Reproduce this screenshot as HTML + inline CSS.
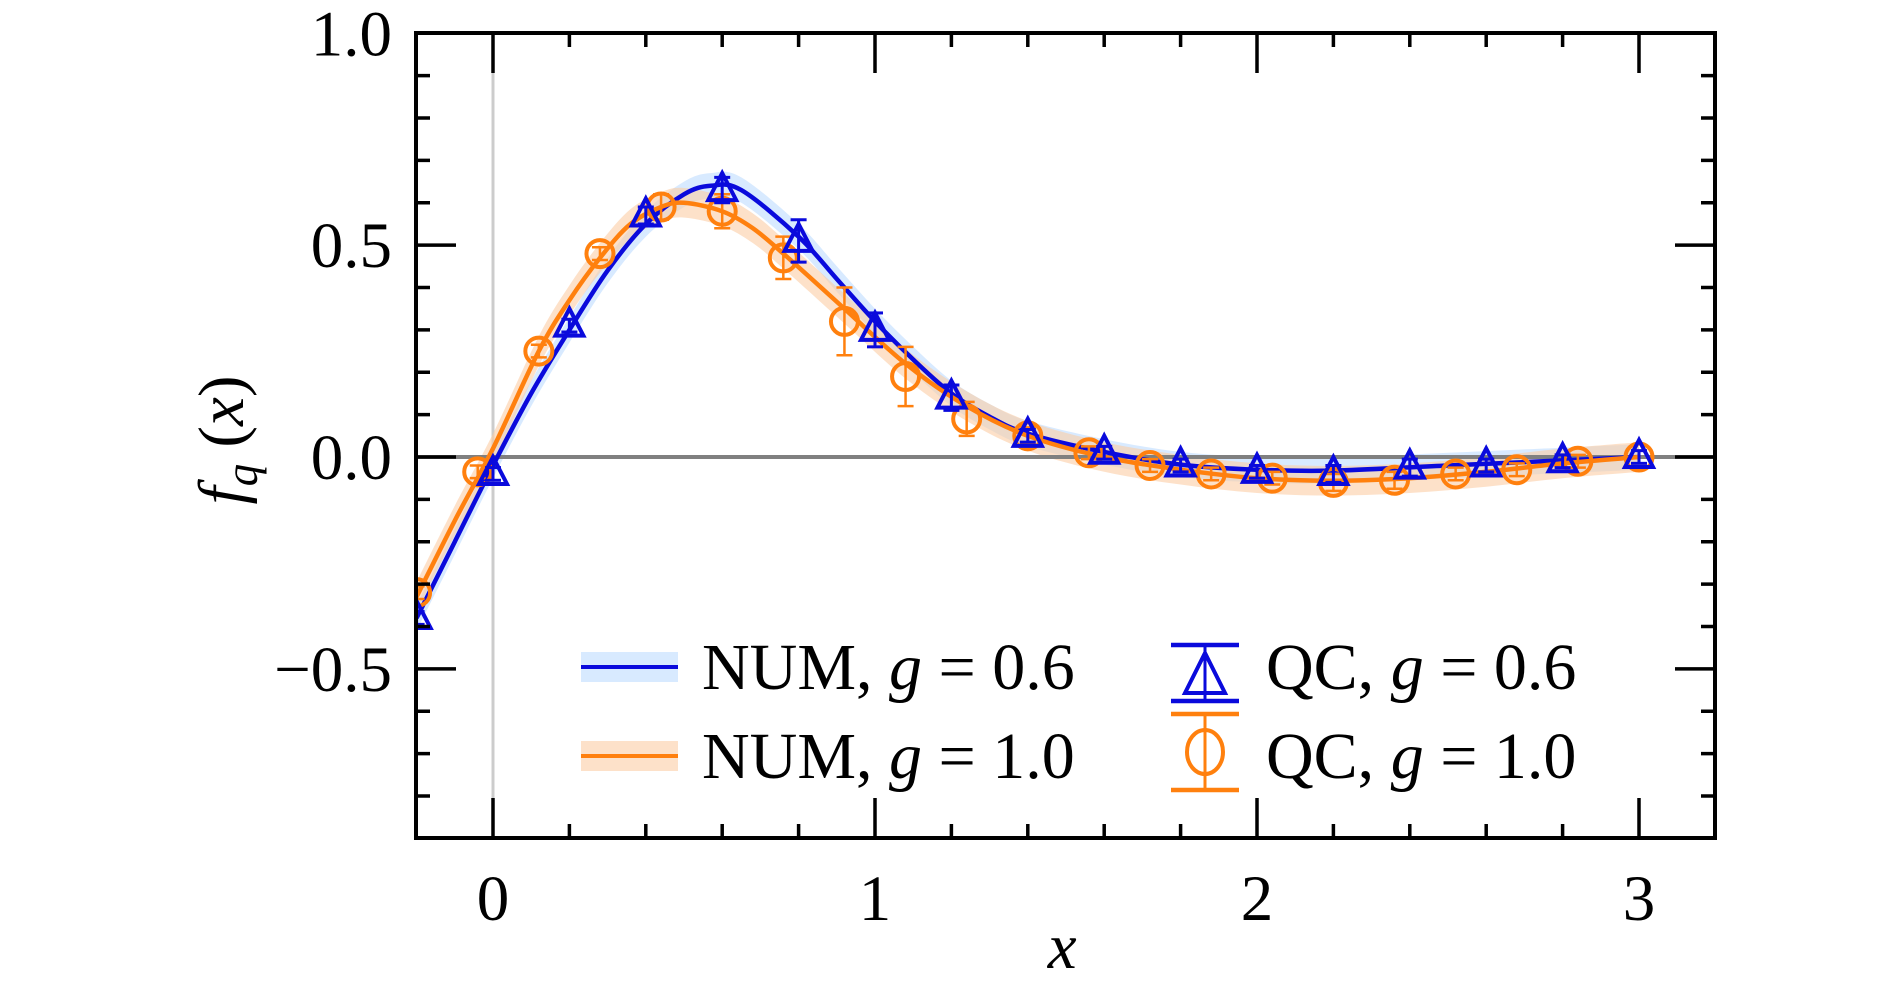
<!DOCTYPE html>
<html><head><meta charset="utf-8"><style>
html,body{margin:0;padding:0;background:#fff;}
svg{display:block;}
text{font-family:"Liberation Serif",serif;fill:#000;}
</style></head><body>
<svg id="s" width="1890" height="983" xmlns="http://www.w3.org/2000/svg"></svg>
<script>
const L=416,R=1715,T=33,B=838;
const X=x=>493+(x)*382, Y=y=>457-y*423.7;
const s=document.getElementById('s');let h='';
function cr(pts){let d='M'+pts[0][0].toFixed(1)+','+pts[0][1].toFixed(1);
for(let i=0;i<pts.length-1;i++){const p0=pts[Math.max(0,i-1)],p1=pts[i],p2=pts[i+1],p3=pts[Math.min(pts.length-1,i+2)];
d+=`C${(p1[0]+(p2[0]-p0[0])/6).toFixed(1)},${(p1[1]+(p2[1]-p0[1])/6).toFixed(1)} ${(p2[0]-(p3[0]-p1[0])/6).toFixed(1)},${(p2[1]-(p3[1]-p1[1])/6).toFixed(1)} ${p2[0].toFixed(1)},${p2[1].toFixed(1)}`;}return d;}
const blue=[[-0.2,-0.38],[-0.1,-0.2],[0,-0.02],[0.1,0.15],[0.2,0.3],[0.3,0.44],[0.4,0.55],[0.5,0.62],[0.57,0.64],[0.65,0.63],[0.8,0.52],[0.9,0.42],[1.0,0.32],[1.1,0.23],[1.2,0.15],[1.3,0.095],[1.4,0.055],[1.6,0.012],[1.8,-0.018],[2.0,-0.03],[2.2,-0.032],[2.5,-0.02],[2.8,-0.008],[3.0,0]];
const orng=[[-0.2,-0.33],[-0.1,-0.15],[0,0.02],[0.12,0.25],[0.2,0.37],[0.28,0.47],[0.36,0.55],[0.44,0.59],[0.5,0.6],[0.6,0.58],[0.68,0.54],[0.76,0.48],[0.92,0.35],[1.08,0.22],[1.24,0.12],[1.4,0.05],[1.6,0.0],[1.8,-0.03],[2.0,-0.05],[2.2,-0.056],[2.4,-0.05],[2.6,-0.035],[2.8,-0.015],[3.0,0]];
function band(a,w,c){const up=a.map(p=>[X(p[0]),Y(p[1]+w)]),dn=a.map(p=>[X(p[0]),Y(p[1]-w)]).reverse();
return `<path d="${cr(up)} L${dn[0][0]},${dn[0][1]} ${cr(dn).slice(1).replace(/^[^C]*/,'')} Z" fill="${c}"/>`;}
h+=`<defs><clipPath id="c"><rect x="${L}" y="${T}" width="${R-L}" height="${B-T}"/></clipPath></defs><g clip-path="url(#c)">`;
h+=`<line x1="${X(0)}" y1="${T}" x2="${X(0)}" y2="${B}" stroke="#cccccc" stroke-width="3"/>`;
h+=band(blue,0.03,'rgba(190,220,255,0.6)');
h+=band(orng,0.035,'rgba(252,205,165,0.6)');
h+=`<line x1="${L}" y1="${Y(0)}" x2="${R}" y2="${Y(0)}" stroke="#808080" stroke-width="4"/>`;
h+=`<path d="${cr(blue.map(p=>[X(p[0]),Y(p[1])]))}" fill="none" stroke="#0a0adc" stroke-width="4.5"/>`;
h+=`<path d="${cr(orng.map(p=>[X(p[0]),Y(p[1])]))}" fill="none" stroke="#ff800e" stroke-width="4.5"/>`;
const bq=[[-0.2,-0.38,.015],[0,-0.04,.015],[0.2,0.31,.015],[0.4,0.57,.02],[0.6,0.63,.03],[0.8,0.51,.05],[1.0,0.30,.04],[1.2,0.14,.03],[1.4,0.05,.015],[1.6,0.01,.015],[1.8,-0.02,.015],[2.0,-0.035,.015],[2.2,-0.04,.02],[2.4,-0.025,.02],[2.6,-0.02,.015],[2.8,-0.01,.015],[3.0,0,.015]];
const oq=[[-0.2,-0.32,.015],[-0.04,-0.035,.015],[0.12,0.25,.015],[0.28,0.48,.015],[0.44,0.59,.03],[0.6,0.58,.04],[0.76,0.47,.05],[0.92,0.32,.08],[1.08,0.19,.07],[1.24,0.09,.04],[1.4,0.05,.02],[1.56,0.01,.015],[1.72,-0.02,.015],[1.88,-0.04,.015],[2.04,-0.05,.015],[2.2,-0.06,.02],[2.36,-0.055,.02],[2.52,-0.04,.015],[2.68,-0.03,.015],[2.84,-0.01,.015],[3.0,0,.015]];
function eb(x,y,e,c,w){const cx=X(x);return `<line x1="${cx}" y1="${Y(y+e)}" x2="${cx}" y2="${Y(y-e)}" stroke="${c}" stroke-width="${w}"/><line x1="${cx-8}" y1="${Y(y+e)}" x2="${cx+8}" y2="${Y(y+e)}" stroke="${c}" stroke-width="${w}"/><line x1="${cx-8}" y1="${Y(y-e)}" x2="${cx+8}" y2="${Y(y-e)}" stroke="${c}" stroke-width="${w}"/>`;}
oq.forEach(p=>{h+=eb(p[0],p[1],p[2],'#ff800e',2.5);h+=`<circle cx="${X(p[0])}" cy="${Y(p[1])}" r="13.5" fill="none" stroke="#ff800e" stroke-width="4"/>`;});
bq.forEach(p=>{h+=eb(p[0],p[1],p[2],'#0a0adc',3);const cx=X(p[0]),cy=Y(p[1]);h+=`<polygon points="${cx},${cy-17} ${cx-14},${cy+10} ${cx+14},${cy+10}" fill="none" stroke="#0a0adc" stroke-width="4"/>`;});
h+='</g>';
let tk='';
for(let i=-1;i<=16;i++){const x=i*0.2;const px=X(x);if(px<L+2||px>R-2)continue;const maj=Math.abs(x-Math.round(x))<1e-6;const l=maj?40:14;
tk+=`M${px},${B}v${-l}M${px},${T}v${l}`;}
for(let i=-9;i<=10;i++){const y=i*0.1,py=Y(y);if(py<T+2||py>B-2)continue;const maj=i%5==0;const l=maj?40:14;
tk+=`M${L},${py}h${l}M${R},${py}h${-l}`;}
h+=`<path d="${tk}" stroke="#000" stroke-width="3.5" fill="none"/>`;
h+=`<rect x="${L}" y="${T}" width="${R-L}" height="${B-T}" fill="none" stroke="#000" stroke-width="4"/>`;
[[1,'1.0'],[0.5,'0.5'],[0,'0.0'],[-0.5,'\u22120.5']].forEach(a=>{h+=`<text x="392" y="${Y(a[0])+22}" font-size="65" text-anchor="end">${a[1]}</text>`;});
[0,1,2,3].forEach(v=>{h+=`<text x="${X(v)}" y="920" font-size="65" text-anchor="middle">${v}</text>`;});
h+=`<text x="${X(1.49)}" y="968" font-size="65" font-style="italic" text-anchor="middle">x</text>`;
h+=`<text transform="translate(243,440) rotate(-90)" font-size="65" text-anchor="middle"><tspan font-style="italic">f</tspan><tspan font-style="italic" font-size="45" dy="14">q</tspan><tspan dy="-14"> (</tspan><tspan font-style="italic">x</tspan>)</text>`;
const ly1=667,ly2=756;
h+=`<rect x="581" y="${ly1-15}" width="97" height="30" fill="rgba(190,220,255,0.6)"/><line x1="581" y1="${ly1}" x2="678" y2="${ly1}" stroke="#0a0adc" stroke-width="4"/>`;
h+=`<rect x="581" y="${ly2-15}" width="97" height="30" fill="rgba(252,205,165,0.6)"/><line x1="581" y1="${ly2}" x2="678" y2="${ly2}" stroke="#ff800e" stroke-width="4"/>`;
h+=`<text x="702" y="${ly1+22}" font-size="66">NUM, <tspan font-style="italic">g</tspan> = 0.6</text>`;
h+=`<text x="702" y="${ly2+22}" font-size="66">NUM, <tspan font-style="italic">g</tspan> = 1.0</text>`;
const mx=1205;
h+=`<line x1="${mx-34}" y1="${ly1-22}" x2="${mx+34}" y2="${ly1-22}" stroke="#0a0adc" stroke-width="4.5"/><line x1="${mx-34}" y1="${ly1+34}" x2="${mx+34}" y2="${ly1+34}" stroke="#0a0adc" stroke-width="4.5"/><line x1="${mx}" y1="${ly1-22}" x2="${mx}" y2="${ly1+34}" stroke="#0a0adc" stroke-width="3"/><polygon points="${mx},${ly1-14} ${mx-20},${ly1+26} ${mx+20},${ly1+26}" fill="none" stroke="#0a0adc" stroke-width="4"/>`;
h+=`<line x1="${mx-34}" y1="${ly2-42}" x2="${mx+34}" y2="${ly2-42}" stroke="#ff800e" stroke-width="4.5"/><line x1="${mx-34}" y1="${ly2+34}" x2="${mx+34}" y2="${ly2+34}" stroke="#ff800e" stroke-width="4.5"/><line x1="${mx}" y1="${ly2-42}" x2="${mx}" y2="${ly2+34}" stroke="#ff800e" stroke-width="3"/><ellipse cx="${mx}" cy="${ly2-4}" rx="18" ry="22" fill="none" stroke="#ff800e" stroke-width="4"/>`;
h+=`<text x="1266" y="${ly1+22}" font-size="66">QC, <tspan font-style="italic">g</tspan> = 0.6</text>`;
h+=`<text x="1266" y="${ly2+22}" font-size="66">QC, <tspan font-style="italic">g</tspan> = 1.0</text>`;
s.innerHTML=h;
</script>
</body></html>
